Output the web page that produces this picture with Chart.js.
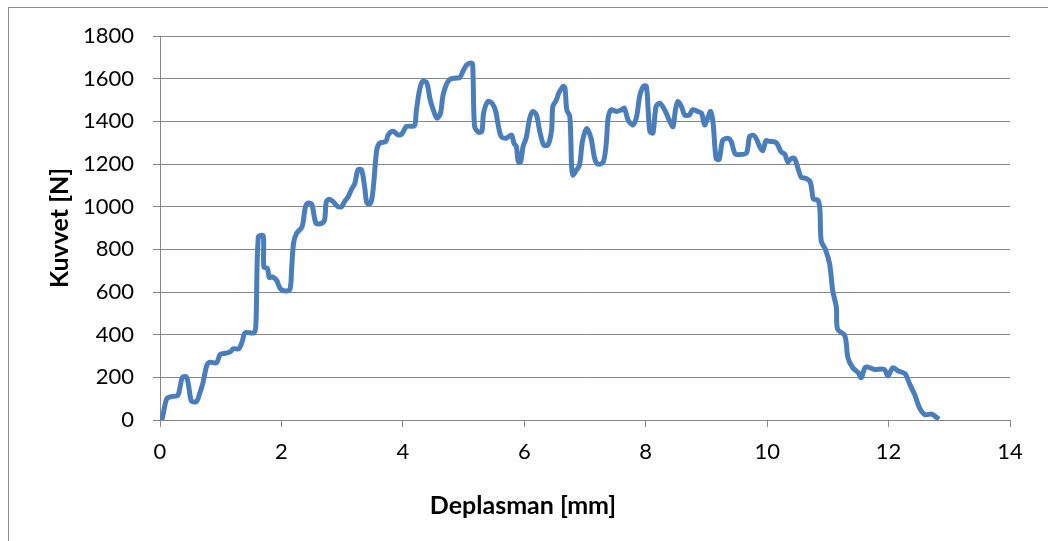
<!DOCTYPE html>
<html>
<head>
<meta charset="utf-8">
<script src="https://cdn.jsdelivr.net/npm/chart.js@4/dist/chart.umd.min.js"></script>
<style>
  html, body { margin: 0; padding: 0; background: #fff; overflow: hidden; }
  #frame { position: absolute; left: 8px; top: 7px; width: 1100px; height: 600px; border: 1px solid #8c8c8c; box-sizing: border-box; }
  #wrap { position: absolute; left: 0; top: 0; width: 1048px; height: 541px; }
</style>
</head>
<body>
<div id="frame"></div>
<div id="wrap"><canvas id="c" width="1048" height="541"></canvas></div>
<script>
// Data
const displacementMm = [
  0.00, 0.03, 0.11, 0.19, 0.29, 0.33, 0.37, 0.44, 0.50, 0.52, 0.60, 0.66, 0.71, 0.77, 0.82, 0.93, 0.99, 1.07, 1.15, 1.21,
  1.30, 1.36, 1.40, 1.55, 1.58, 1.62, 1.70, 1.71, 1.77, 1.80, 1.85, 1.92, 1.98, 2.06, 2.14, 2.17, 2.20, 2.25, 2.34, 2.39,
  2.43, 2.50, 2.57, 2.66, 2.71, 2.74, 2.79, 2.85, 2.93, 2.99, 3.04, 3.10, 3.15, 3.21, 3.26, 3.32, 3.37, 3.41, 3.47, 3.51,
  3.57, 3.62, 3.72, 3.76, 3.84, 3.92, 3.98, 4.06, 4.19, 4.22, 4.27, 4.32, 4.39, 4.45, 4.50, 4.56, 4.62, 4.66, 4.72, 4.78,
  4.88, 4.94, 4.99, 5.05, 5.12, 5.15, 5.18, 5.24, 5.30, 5.33, 5.40, 5.47, 5.53, 5.57, 5.62, 5.70, 5.79, 5.83, 5.87, 5.90,
  5.94, 5.98, 6.03, 6.09, 6.14, 6.20, 6.25, 6.32, 6.39, 6.45, 6.47, 6.53, 6.57, 6.64, 6.67, 6.70, 6.75, 6.78, 6.80, 6.86,
  6.91, 6.96, 7.03, 7.10, 7.16, 7.21, 7.30, 7.35, 7.38, 7.43, 7.52, 7.60, 7.65, 7.71, 7.79, 7.85, 7.90, 7.96, 8.01, 8.04,
  8.07, 8.12, 8.17, 8.23, 8.31, 8.40, 8.45, 8.49, 8.53, 8.59, 8.64, 8.72, 8.77, 8.86, 8.92, 8.97, 9.03, 9.07, 9.11, 9.16,
  9.21, 9.27, 9.36, 9.41, 9.47, 9.55, 9.66, 9.71, 9.77, 9.82, 9.88, 9.93, 9.98, 10.04, 10.15, 10.23, 10.29, 10.34, 10.40, 10.45,
  10.51, 10.56, 10.65, 10.71, 10.74, 10.76, 10.84, 10.87, 10.89, 10.96, 11.03, 11.08, 11.14, 11.16, 11.28, 11.33, 11.41, 11.50, 11.55, 11.61,
  11.66, 11.77, 11.93, 11.99, 12.07, 12.16, 12.27, 12.35, 12.43, 12.51, 12.60, 12.71, 12.83
];
const forceN = [
  0, 0, 99, 110, 114, 154, 200, 200, 107, 88, 86, 130, 177, 255, 271, 268, 307, 313, 318, 334,
  334, 373, 409, 409, 451, 859, 862, 718, 710, 668, 671, 655, 616, 605, 612, 718, 830, 875, 906, 992,
  1016, 1010, 922, 922, 938, 1024, 1035, 1024, 1000, 1000, 1024, 1047, 1079, 1110, 1172, 1172, 1094, 1016, 1016, 1079,
  1266, 1298, 1306, 1337, 1353, 1337, 1340, 1376, 1379, 1445, 1540, 1585, 1583, 1501, 1455, 1415, 1438, 1520, 1575, 1598,
  1603, 1606, 1635, 1664, 1674, 1666, 1380, 1350, 1352, 1438, 1493, 1485, 1446, 1383, 1329, 1321, 1336, 1297, 1282, 1211,
  1211, 1282, 1321, 1415, 1446, 1430, 1360, 1289, 1289, 1360, 1470, 1501, 1533, 1564, 1556, 1454, 1423, 1187, 1148, 1172,
  1195, 1310, 1367, 1320, 1225, 1200, 1209, 1296, 1414, 1454, 1446, 1454, 1461, 1406, 1383, 1422, 1517, 1564, 1564, 1454,
  1351, 1346, 1469, 1485, 1454, 1398, 1375, 1454, 1493, 1469, 1430, 1430, 1454, 1446, 1438, 1383, 1422, 1446, 1391, 1225,
  1222, 1312, 1320, 1304, 1249, 1244, 1252, 1328, 1335, 1320, 1280, 1263, 1309, 1306, 1300, 1257, 1246, 1210, 1226, 1226,
  1178, 1139, 1131, 1116, 1070, 1037, 1029, 982, 840, 800, 730, 607, 528, 426, 395, 292, 245, 222, 198, 245,
  248, 237, 237, 206, 245, 230, 217, 167, 119, 57, 25, 28, 3
];
const xTickMin = 0, xTickMax = 14, xTickStep = 2;
const yTickMin = 0, yTickMax = 1800, yTickStep = 200;
const xAxisTitle = 'Deplasman [mm]';
const yAxisTitle = 'Kuvvet [N]';

const points = displacementMm.map((x, i) => ({ x: x, y: forceN[i] }));
const gridColor = '#868686';
const fontFam = 'Lato, "Open Sans", sans-serif';

new Chart(document.getElementById('c'), {
  type: 'scatter',
  data: {
    datasets: [{
      data: points,
      showLine: true,
      borderColor: '#4a7ebb',
      backgroundColor: '#4a7ebb',
      borderWidth: 5,
      pointRadius: 0,
      pointHoverRadius: 0,
      tension: 0.3,
      fill: false
    }]
  },
  options: {
    responsive: false,
    animation: false,
    events: [],
    layout: { padding: { left: 0, right: 2, top: 36, bottom: 0 } },
    plugins: {
      legend: { display: false },
      tooltip: { enabled: false },
      title: {
        display: true,
        position: 'bottom',
        text: xAxisTitle,
        color: '#000',
        font: { family: fontFam, size: 25, weight: 'bold' },
        padding: { top: 0, bottom: 20 }
      }
    },
    scales: {
      x: {
        type: 'linear',
        min: xTickMin, max: xTickMax,
        afterFit: (s) => { s.height = 71; },
        border: { display: true, color: gridColor, width: 1 },
        grid: { display: true, drawOnChartArea: false, drawTicks: true, tickLength: 7, color: gridColor },
        ticks: { stepSize: xTickStep, color: '#000', padding: 12, maxRotation: 0,
                 callback: (v) => String(v),
                 font: { family: fontFam, size: 22 } }
      },
      y: {
        type: 'linear',
        min: yTickMin, max: yTickMax,
        afterFit: (s) => { s.width = 160; },
        border: { display: true, color: gridColor, width: 1 },
        grid: { display: true, drawOnChartArea: true, drawTicks: true, tickLength: 7, color: gridColor },
        ticks: { stepSize: yTickStep, color: '#000', padding: 19,
                 callback: (v) => String(v),
                 font: { family: fontFam, size: 22 } },
        title: {
          display: true,
          text: yAxisTitle,
          color: '#000',
          font: { family: fontFam, size: 25, weight: 'bold' },
          padding: { top: 45, bottom: 0 }
        }
      },
      yRightSpace: {
        type: 'linear',
        position: 'right',
        min: yTickMin, max: yTickMax,
        afterFit: (s) => { s.width = 36; },
        border: { display: false },
        grid: { display: false },
        ticks: { display: false }
      }
    }
  }
});
</script>
</body>
</html>
